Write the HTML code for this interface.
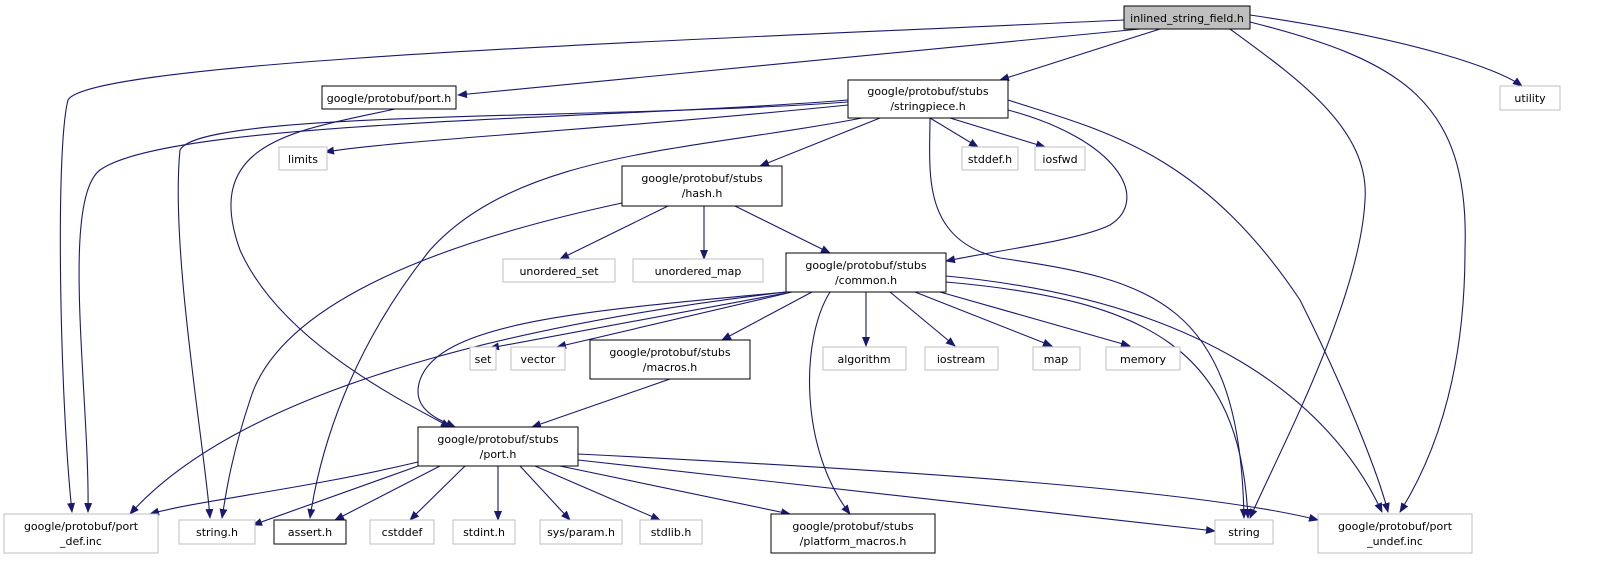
<!DOCTYPE html>
<html><head><meta charset="utf-8"><style>
html,body{margin:0;padding:0;background:#fff;}
svg{display:block;}
text{font-family:"DejaVu Sans","Liberation Sans",sans-serif;font-size:11px;fill:#000;text-anchor:middle;}
.g text{fill:#000;}
.e{fill:none;stroke:#191970;stroke-width:1.1;marker-end:url(#a);}
.b{fill:#fff;stroke:#000;stroke-width:1;}
.n{fill:#fff;stroke:#bfbfbf;stroke-width:1;}
</style></head><body>
<svg width="1602" height="573" viewBox="0 0 1602 573" xmlns="http://www.w3.org/2000/svg">
<defs><marker id="a" markerWidth="10" markerHeight="8" refX="9" refY="4" orient="auto" markerUnits="userSpaceOnUse"><path d="M0,0 L10,4 L0,8 z" fill="#191970"/></marker></defs>
<!-- edges -->
<path class="e" d="M1124,20 C700,40 90,60 68,100 C55,150 60,400 72,512"/>
<path class="e" d="M1140,29 L458,95"/>
<path class="e" d="M1160,29 L1000,80"/>
<path class="e" d="M1230,29 C1300,80 1370,130 1365,200 C1360,300 1280,450 1250,518"/>
<path class="e" d="M1250,22 C1400,60 1470,100 1465,250 C1465,400 1420,480 1400,512"/>
<path class="e" d="M1250,15 C1420,40 1500,70 1522,86"/>
<path class="e" d="M848,100 C600,120 170,120 100,170 C60,200 90,400 88,512"/>
<path class="e" d="M848,105 C600,130 400,140 325,152"/>
<path class="e" d="M848,102 C600,120 200,110 180,150 C170,250 205,450 210,518"/>
<path class="e" d="M862,118 C700,150 520,150 430,250 C350,350 320,450 310,518"/>
<path class="e" d="M880,118 L760,166"/>
<path class="e" d="M930,118 L978,147"/>
<path class="e" d="M950,118 L1045,147"/>
<path class="e" d="M1008,110 C1120,140 1150,200 1110,225 C1080,240 1000,250 946,261"/>
<path class="e" d="M930,118 C930,170 920,240 1000,258 C1150,280 1240,300 1244,518"/>
<path class="e" d="M1008,100 C1100,130 1200,150 1300,300 C1350,400 1380,480 1388,512"/>
<path class="e" d="M395,109 C300,130 200,140 240,250 C280,340 400,400 450,427"/>
<path class="e" d="M622,203 C450,240 280,300 250,400 C230,460 225,500 222,518"/>
<path class="e" d="M668,206 L560,259"/>
<path class="e" d="M704,206 L704,259"/>
<path class="e" d="M735,206 L830,253"/>
<path class="e" d="M786,292 C550,320 250,380 130,514"/>
<path class="e" d="M786,292 C600,310 440,320 420,380 C410,410 440,420 455,427"/>
<path class="e" d="M786,293 L490,348"/>
<path class="e" d="M792,292 L557,347"/>
<path class="e" d="M812,292 L722,340"/>
<path class="e" d="M830,292 C800,340 800,450 850,514"/>
<path class="e" d="M866,292 L866,346"/>
<path class="e" d="M890,292 L955,346"/>
<path class="e" d="M915,292 L1052,346"/>
<path class="e" d="M940,292 L1130,346"/>
<path class="e" d="M946,282 C1150,300 1240,350 1248,518"/>
<path class="e" d="M946,276 C1200,300 1330,400 1382,512"/>
<path class="e" d="M670,379 L532,427"/>
<path class="e" d="M418,462 C300,490 200,500 150,514"/>
<path class="e" d="M418,466 L253,525"/>
<path class="e" d="M440,466 L335,520"/>
<path class="e" d="M465,466 L410,520"/>
<path class="e" d="M498,466 L498,520"/>
<path class="e" d="M520,466 L570,520"/>
<path class="e" d="M535,466 L660,520"/>
<path class="e" d="M560,466 L790,514"/>
<path class="e" d="M578,460 L1215,531"/>
<path class="e" d="M578,454 C900,470 1200,490 1318,520"/>
<!-- nodes -->
<rect x="1124" y="6" width="126" height="23" fill="#bfbfbf" stroke="#000"/><text x="1187" y="22">inlined_string_field.h</text>
<rect class="b" x="322" y="86" width="134" height="23"/><text x="389" y="102">google/protobuf/port.h</text>
<rect class="b" x="848" y="80" width="160" height="38"/><text x="928" y="95">google/protobuf/stubs</text><text x="928" y="110">/stringpiece.h</text>
<rect class="n" x="1500" y="86" width="60" height="24"/><text x="1530" y="102">utility</text>
<rect class="n" x="279" y="147" width="48" height="23"/><text x="303" y="163">limits</text>
<rect class="b" x="622" y="166" width="160" height="40"/><text x="702" y="182">google/protobuf/stubs</text><text x="702" y="197">/hash.h</text>
<rect class="n" x="962" y="147" width="56" height="23"/><text x="990" y="163">stddef.h</text>
<rect class="n" x="1035" y="147" width="50" height="23"/><text x="1060" y="163">iosfwd</text>
<rect class="n" x="503" y="259" width="112" height="23"/><text x="559" y="275">unordered_set</text>
<rect class="n" x="633" y="259" width="130" height="23"/><text x="698" y="275">unordered_map</text>
<rect class="b" x="786" y="253" width="160" height="39"/><text x="866" y="269">google/protobuf/stubs</text><text x="866" y="284">/common.h</text>
<rect class="n" x="470" y="347" width="26" height="23"/><text x="483" y="363">set</text>
<rect class="n" x="511" y="347" width="54" height="23"/><text x="538" y="363">vector</text>
<rect class="b" x="590" y="340" width="160" height="39"/><text x="670" y="356">google/protobuf/stubs</text><text x="670" y="371">/macros.h</text>
<rect class="n" x="823" y="347" width="83" height="23"/><text x="864" y="363">algorithm</text>
<rect class="n" x="925" y="347" width="73" height="23"/><text x="961" y="363">iostream</text>
<rect class="n" x="1033" y="347" width="47" height="23"/><text x="1056" y="363">map</text>
<rect class="n" x="1106" y="347" width="74" height="23"/><text x="1143" y="363">memory</text>
<rect class="b" x="418" y="427" width="160" height="39"/><text x="498" y="443">google/protobuf/stubs</text><text x="498" y="458">/port.h</text>
<rect class="n" x="4" y="514" width="154" height="39"/><text x="81" y="530">google/protobuf/port</text><text x="81" y="545">_def.inc</text>
<rect class="n" x="179" y="520" width="76" height="24"/><text x="217" y="536">string.h</text>
<rect class="b" x="274" y="520" width="72" height="24"/><text x="310" y="536">assert.h</text>
<rect class="n" x="370" y="520" width="64" height="24"/><text x="402" y="536">cstddef</text>
<rect class="n" x="453" y="520" width="62" height="24"/><text x="484" y="536">stdint.h</text>
<rect class="n" x="540" y="520" width="82" height="24"/><text x="581" y="536">sys/param.h</text>
<rect class="n" x="640" y="520" width="62" height="24"/><text x="671" y="536">stdlib.h</text>
<rect class="b" x="771" y="514" width="164" height="39"/><text x="853" y="530">google/protobuf/stubs</text><text x="853" y="545">/platform_macros.h</text>
<rect class="n" x="1215" y="520" width="58" height="24"/><text x="1244" y="536">string</text>
<rect class="n" x="1318" y="514" width="154" height="39"/><text x="1395" y="530">google/protobuf/port</text><text x="1395" y="545">_undef.inc</text>
</svg>
</body></html>
